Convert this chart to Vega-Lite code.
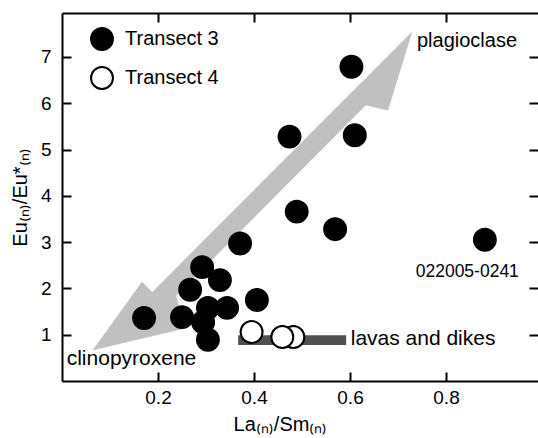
{
  "$schema": "https://vega.github.io/schema/vega-lite/v6.json",
  "width": 476,
  "height": 368,
  "autosize": {"type": "none"},
  "padding": {"left": 62, "top": 13, "right": 0, "bottom": 57},
  "background": "white",
  "datasets": {
    "points": [
      {"x": 0.171, "y": 1.36, "transect": "Transect 3"},
      {"x": 0.250, "y": 1.38, "transect": "Transect 3"},
      {"x": 0.371, "y": 2.97, "transect": "Transect 3"},
      {"x": 0.292, "y": 2.46, "transect": "Transect 3"},
      {"x": 0.329, "y": 2.18, "transect": "Transect 3"},
      {"x": 0.267, "y": 1.97, "transect": "Transect 3"},
      {"x": 0.406, "y": 1.75, "transect": "Transect 3"},
      {"x": 0.344, "y": 1.58, "transect": "Transect 3"},
      {"x": 0.304, "y": 1.58, "transect": "Transect 3"},
      {"x": 0.294, "y": 1.27, "transect": "Transect 3"},
      {"x": 0.304, "y": 0.89, "transect": "Transect 3"},
      {"x": 0.474, "y": 5.28, "transect": "Transect 3"},
      {"x": 0.489, "y": 3.66, "transect": "Transect 3"},
      {"x": 0.569, "y": 3.28, "transect": "Transect 3"},
      {"x": 0.610, "y": 5.31, "transect": "Transect 3"},
      {"x": 0.603, "y": 6.79, "transect": "Transect 3"},
      {"x": 0.881, "y": 3.05, "transect": "Transect 3"},
      {"x": 0.395, "y": 1.06, "transect": "Transect 4"},
      {"x": 0.482, "y": 0.95, "transect": "Transect 4"},
      {"x": 0.459, "y": 0.95, "transect": "Transect 4"}
    ],
    "arrow": [
      {"i": 1, "x": 0.729, "y": 7.54},
      {"i": 2, "x": 0.679, "y": 5.85},
      {"i": 3, "x": 0.633, "y": 5.96},
      {"i": 4, "x": 0.2375, "y": 1.84},
      {"i": 5, "x": 0.256, "y": 1.14},
      {"i": 6, "x": 0.0646, "y": 0.67},
      {"i": 7, "x": 0.1667, "y": 2.14},
      {"i": 8, "x": 0.1875, "y": 1.92}
    ],
    "bar": [
      {"x": 0.367, "x2": 0.592, "y": 0.78, "y2": 0.99}
    ],
    "labels": [
      {"label": "plagioclase", "x": 0.7396, "y": 7.22},
      {"label": "clinopyroxene", "x": 0.0098, "y": 0.346},
      {"label": "lavas and dikes", "x": 0.6015, "y": 0.778},
      {"label": "022005-0241", "x": 0.7369, "y": 2.24}
    ]
  },
  "layer": [
    {
      "data": {"name": "arrow"},
      "mark": {"type": "line", "fill": "#c0c0c0", "stroke": "#c0c0c0", "strokeWidth": 0.5, "interpolate": "linear"},
      "encoding": {
        "x": {"field": "x", "type": "quantitative", "scale": {"domain": [0, 0.9917], "nice": false, "zero": false}, "axis": null},
        "y": {"field": "y", "type": "quantitative", "scale": {"domain": [0, 7.95], "nice": false, "zero": false}, "axis": null},
        "order": {"field": "i", "type": "quantitative"}
      }
    },
    {
      "data": {"name": "bar"},
      "mark": {"type": "rect", "color": "#505050"},
      "encoding": {
        "x": {"field": "x", "type": "quantitative", "scale": {"domain": [0, 0.9917], "nice": false, "zero": false}, "axis": null},
        "x2": {"field": "x2"},
        "y": {"field": "y", "type": "quantitative", "scale": {"domain": [0, 7.95], "nice": false, "zero": false}, "axis": null},
        "y2": {"field": "y2"}
      }
    },
    {
      "data": {"name": "points"},
      "mark": {"type": "point", "shape": "circle", "filled": true, "size": 480, "stroke": "black", "strokeWidth": 2, "opacity": 1},
      "encoding": {
        "x": {
          "field": "x", "type": "quantitative",
          "scale": {"domain": [0, 0.9917], "nice": false, "zero": false},
          "axis": {"orient": "bottom", "values": [0.2, 0.4, 0.6, 0.8], "format": ".1f", "title": "La₍ₙ₎/Sm₍ₙ₎", "titleX": 218, "labelPadding": 16, "titlePadding": 7}
        },
        "y": {
          "field": "y", "type": "quantitative",
          "scale": {"domain": [0, 7.95], "nice": false, "zero": false},
          "axis": {"orient": "left", "values": [1, 2, 3, 4, 5, 6, 7], "format": "d", "title": "Eu₍ₙ₎/Eu*₍ₙ₎", "titlePadding": 10}
        },
        "fill": {
          "field": "transect", "type": "nominal",
          "scale": {"domain": ["Transect 3", "Transect 4"], "range": ["black", "white"]},
          "legend": {
            "orient": "none", "legendX": 28, "legendY": 14, "title": null,
            "symbolType": "circle", "symbolSize": 480, "symbolStrokeColor": "black", "symbolStrokeWidth": 2,
            "labelFontSize": 20, "labelFont": "Liberation Sans", "labelColor": "black", "labelOffset": 11, "rowPadding": 9, "padding": 0
          }
        }
      }
    },
    {
      "data": {"name": "labels"},
      "transform": [{"filter": "datum.label === 'plagioclase'"}],
      "mark": {"type": "text", "align": "left", "baseline": "alphabetic", "font": "Liberation Sans", "fontSize": 20, "color": "black"},
      "encoding": {
        "x": {"field": "x", "type": "quantitative", "scale": {"domain": [0, 0.9917], "nice": false, "zero": false},
          "axis": {"orient": "top", "values": [0.2, 0.4, 0.6, 0.8], "labels": false, "title": null}},
        "y": {"field": "y", "type": "quantitative", "scale": {"domain": [0, 7.95], "nice": false, "zero": false},
          "axis": {"orient": "right", "values": [1, 2, 3, 4, 5, 6, 7], "labels": false, "title": null, "domain": false}},
        "text": {"field": "label", "type": "nominal"}
      }
    },
    {
      "data": {"name": "labels"},
      "transform": [{"filter": "datum.label === 'clinopyroxene' || datum.label === 'lavas and dikes'"}],
      "mark": {"type": "text", "align": "left", "baseline": "alphabetic", "font": "Liberation Sans", "fontSize": 21, "color": "black"},
      "encoding": {
        "x": {"field": "x", "type": "quantitative", "scale": {"domain": [0, 0.9917], "nice": false, "zero": false}, "axis": null},
        "y": {"field": "y", "type": "quantitative", "scale": {"domain": [0, 7.95], "nice": false, "zero": false}, "axis": null},
        "text": {"field": "label", "type": "nominal"}
      }
    },
    {
      "data": {"name": "labels"},
      "transform": [{"filter": "datum.label === '022005-0241'"}],
      "mark": {"type": "text", "align": "left", "baseline": "alphabetic", "font": "Liberation Sans", "fontSize": 17.5, "color": "black"},
      "encoding": {
        "x": {"field": "x", "type": "quantitative", "scale": {"domain": [0, 0.9917], "nice": false, "zero": false}, "axis": null},
        "y": {"field": "y", "type": "quantitative", "scale": {"domain": [0, 7.95], "nice": false, "zero": false}, "axis": null},
        "text": {"field": "label", "type": "nominal"}
      }
    }
  ],
  "resolve": {"axis": {"x": "independent", "y": "independent"}},
  "config": {
    "view": {"stroke": null},
    "axis": {
      "grid": false,
      "domainColor": "black", "domainWidth": 2,
      "tickColor": "black", "tickWidth": 2, "tickSize": -9,
      "labelFont": "Liberation Sans", "labelFontSize": 19, "labelColor": "black", "labelPadding": 20,
      "titleFont": "Liberation Sans", "titleFontSize": 20, "titleColor": "black", "titleFontWeight": "normal", "titlePadding": 12
    }
  }
}
